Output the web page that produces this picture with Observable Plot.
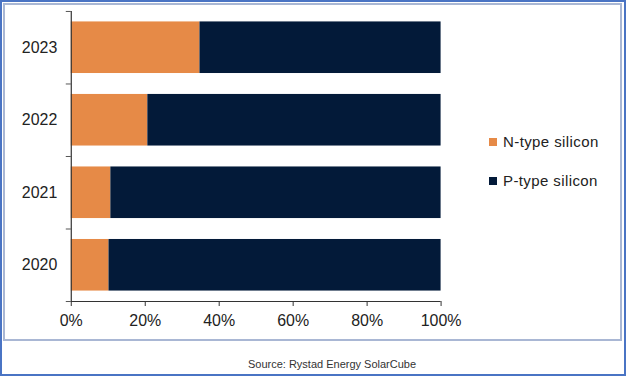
<!DOCTYPE html>
<html>
<head>
<meta charset="utf-8">
<script src="https://cdn.jsdelivr.net/npm/d3@7"></script>
<script src="https://cdn.jsdelivr.net/npm/@observablehq/plot@0.6"></script>
<style>
  html, body { margin: 0; padding: 0; background: #fff; }
  #wrap { position: relative; width: 626px; height: 376px; box-sizing: border-box; border: 2px solid #4A74C4; overflow: hidden; font-family: "Liberation Sans", Arial, sans-serif; }
  #inner { position: absolute; left: 1px; top: 1px; width: 619px; height: 338px; box-sizing: border-box; border: 2px solid #A9B7D4; }
  #chart { position: absolute; left: -2px; top: -2px; }
  .leg { position: absolute; left: 487px; font-size: 15px; letter-spacing: 0.4px; color: #222; display: flex; align-items: center; white-space: nowrap; }
  .leg span.sw { display: inline-block; width: 8px; height: 8px; margin-right: 6px; }
  #source { position: absolute; left: 0; width: 660px; top: 356px; text-align: center; font-size: 11px; color: #333; font-family: "Liberation Sans Narrow", "Liberation Sans", Arial, sans-serif; }
</style>
</head>
<body>
<div id="wrap">
  <div id="inner"></div>
  <div id="chart"></div>
  <div id="legend"></div>
  <div id="source">Source: Rystad Energy SolarCube</div>
</div>
<script>
const years = ["2020", "2021", "2022", "2023"];
const nType = [10.2, 10.7, 20.7, 34.8];
const pType = [89.8, 89.3, 79.3, 65.2];
const seriesNames = ["N-type silicon", "P-type silicon"];
const seriesColors = ["#E68A47", "#031A39"];
const xTicks = [0, 20, 40, 60, 80, 100];

const rows = [];
years.forEach((yr, i) => {
  rows.push({year: yr, idx: i, type: seriesNames[0], x1: 0, x2: nType[i]});
  rows.push({year: yr, idx: i, type: seriesNames[1], x1: nType[i], x2: nType[i] + pType[i]});
});

const boundaries = d3.range(years.length + 1);
const centers = years.map((_, i) => i + 0.5);

const plot = Plot.plot({
  width: 626,
  height: 340,
  marginLeft: 71,
  marginRight: 184,
  marginTop: 11,
  marginBottom: 38,
  style: {fontFamily: "'Liberation Sans', Arial, sans-serif", color: "#222", background: "transparent"},
  x: {domain: [0, 100]},
  y: {domain: [0, years.length]},
  color: {domain: seriesNames, range: seriesColors},
  marks: [
    Plot.rect(rows, {x1: "x1", x2: "x2", y1: d => d.idx, y2: d => d.idx + 1, fill: "type", insetTop: 10.5, insetBottom: 10.5}),
    Plot.axisX({ticks: xTicks, tickSize: 5, tickPadding: 8, tickFormat: d => d + "%", fontSize: 16, stroke: "#333", color: "#222"}),
    Plot.axisY({ticks: boundaries, tickSize: 5, tickFormat: () => "", stroke: "#555"}),
    Plot.axisY({ticks: centers, tickSize: 0, tickPadding: 14, tickFormat: d => years[Math.floor(d)], fontSize: 16, color: "#222"}),
    Plot.ruleY([0], {stroke: "#333", strokeWidth: 1.2}),
    Plot.ruleX([0], {y1: 0, y2: years.length, stroke: "#333", strokeWidth: 1.2})
  ]
});
document.getElementById("chart").appendChild(plot);

const legend = document.getElementById("legend");
const legTops = [131, 170];
seriesNames.forEach((name, i) => {
  const d = document.createElement("div");
  d.className = "leg";
  d.style.top = legTops[i] + "px";
  d.innerHTML = `<span class="sw" style="background:${seriesColors[i]}"></span>${name}`;
  legend.appendChild(d);
});
</script>
</body>
</html>
